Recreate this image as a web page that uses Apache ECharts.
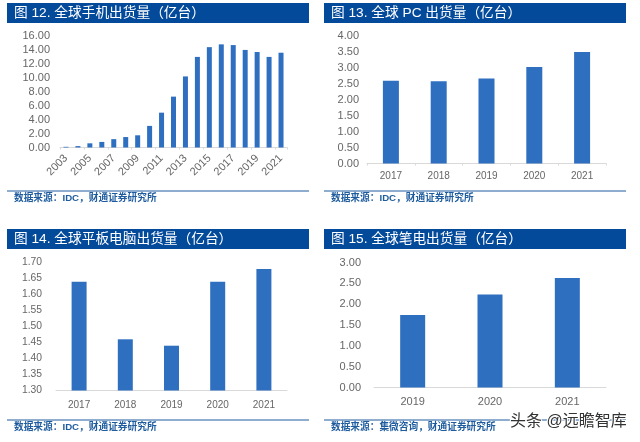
<!DOCTYPE html>
<html>
<head>
<meta charset="UTF-8">
<title></title>
<style>
html,body{margin:0;padding:0;background:#fff}
#main{width:640px;height:442px}
</style>
<script src="https://cdn.jsdelivr.net/npm/echarts@6/dist/echarts.min.js"></script>
</head>
<body>
<div id="main"></div>
<script>
var phoneYears = ['2003','2004','2005','2006','2007','2008','2009','2010','2011','2012','2013','2014','2015','2016','2017','2018','2019','2020','2021'];
var phoneValues = [0.1,0.2,0.6,0.8,1.2,1.5,1.75,3.1,5.0,7.3,10.2,13.0,14.4,14.8,14.7,14.0,13.7,13.0,13.6];
var pcYears = ['2017','2018','2019','2020','2021'];
var pcValues = [2.6,2.58,2.67,3.03,3.5];
var padYears = ['2017','2018','2019','2020','2021'];
var padValues = [1.64,1.46,1.44,1.64,1.68];
var laptopYears = ['2019','2020','2021'];
var laptopValues = [1.74,2.23,2.63];
var titles = ['图 12. 全球手机出货量（亿台）','图 13. 全球 PC 出货量（亿台）','图 14. 全球平板电脑出货量（亿台）','图 15. 全球笔电出货量（亿台）'];
var sources = ['数据来源：IDC，财通证券研究所','数据来源：IDC，财通证券研究所','数据来源：IDC，财通证券研究所','数据来源：集微咨询，财通证券研究所'];

var fontName = '"Liberation Sans","Noto Sans CJK SC",sans-serif';
var blue = '#2f6fc0', navy = '#044a9b', grey = '#666666';

// left, right edge of each plot, top, bottom, plus label sizes per panel
var boxes = [
	{ l: 60, r: 287, t: 36, b: 147.5, bar: 5, yFont: 11, yGap: 10, xFont: 11, xGap: 9 },
	{ l: 367, r: 606, t: 36, b: 163.5, bar: 16, yFont: 11, yGap: 8, xFont: 10, xGap: 8 },
	{ l: 56, r: 287, t: 262.5, b: 390.5, bar: 15, yFont: 10.3, yGap: 14, xFont: 10, xGap: 10 },
	{ l: 374, r: 606, t: 262.5, b: 387.5, bar: 25, yFont: 11, yGap: 13, xFont: 11, xGap: 9 }
];
var heads = [
	{ x: 7, y: 3, w: 302, h: 20, line: 191 },
	{ x: 324, y: 3, w: 302, h: 20, line: 191 },
	{ x: 7, y: 229, w: 302, h: 20, line: 420 },
	{ x: 324, y: 229, w: 302, h: 20, line: 420 }
];
var cats = [phoneYears, pcYears, padYears, laptopYears];
var vals = [phoneValues, pcValues, padValues, laptopValues];
var ranges = [[0, 16, 2], [0, 4, 0.5], [1.3, 1.7, 0.05], [0, 3, 0.5]];

var grid = [], xAxis = [], yAxis = [], series = [], graphic = [];
for (var i = 0; i < 4; i++) {
	var b = boxes[i], h = heads[i];
	grid.push({ left: b.l, top: b.t, width: b.r - b.l, height: b.b - b.t });
	xAxis.push({
		type: 'category',
		gridIndex: i,
		data: cats[i],
		axisLine: { onZero: false, lineStyle: { color: '#d9d9d9', width: 1 } },
		axisTick: { show: i == 0 || i == 1, alignWithLabel: false, length: 2, lineStyle: { color: '#d9d9d9' } },
		axisLabel: {
			interval: i == 0 ? 1 : 0,
			rotate: i == 0 ? 45 : 0,
			color: grey,
			fontSize: b.xFont,
			fontFamily: fontName,
			margin: b.xGap
		}
	});
	yAxis.push({
		type: 'value',
		gridIndex: i,
		min: ranges[i][0],
		max: ranges[i][1],
		interval: ranges[i][2],
		axisLine: { show: false },
		axisTick: { show: false },
		splitLine: { show: false },
		axisLabel: {
			color: grey,
			fontSize: b.yFont,
			fontFamily: fontName,
			margin: b.yGap,
			formatter: function(v) { return v.toFixed(2); }
		}
	});
	series.push({
		type: 'bar',
		xAxisIndex: i,
		yAxisIndex: i,
		data: vals[i],
		barWidth: b.bar,
		itemStyle: { color: blue }
	});
	graphic.push({ type: 'rect', z: 0, shape: { x: h.x, y: h.y, width: h.w, height: h.h }, style: { fill: navy } });
	graphic.push({ type: 'text', z: 1, x: h.x + 7, y: h.y + 10, style: { text: titles[i], fill: '#ffffff', font: '13.7px ' + fontName, textVerticalAlign: 'middle' } });
	graphic.push({ type: 'line', z: 0, shape: { x1: h.x, y1: h.line, x2: h.x + h.w, y2: h.line }, style: { stroke: '#1f5c9e', lineWidth: 1 } });
	graphic.push({ type: 'text', z: 1, x: h.x + 7, y: h.line + 7.5, style: { text: sources[i], fill: '#1f5c9e', font: 'bold 9.7px ' + fontName, textVerticalAlign: 'middle' } });
}
// watermark bottom right
graphic.push({ type: 'text', z: 5, x: 510, y: 421.5, style: { text: '头条 @远瞻智库', fill: '#333333', stroke: '#ffffff', lineWidth: 2, font: '16px ' + fontName, textVerticalAlign: 'middle' } });

var myChart = echarts.init(document.getElementById('main'), null, { renderer: 'canvas' });
myChart.setOption({
	animation: false,
	backgroundColor: '#ffffff',
	grid: grid,
	xAxis: xAxis,
	yAxis: yAxis,
	series: series,
	graphic: graphic
});
</script>
</body>
</html>
